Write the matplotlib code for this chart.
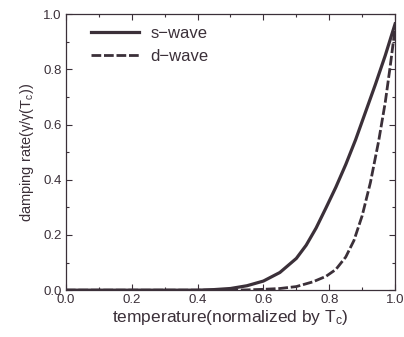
import numpy as np
import matplotlib
matplotlib.use('Agg')
import matplotlib.pyplot as plt
from matplotlib.ticker import MultipleLocator

plt.rcParams['font.family'] = ['Liberation Sans', 'DejaVu Sans']
plt.rcParams['mathtext.fontset'] = 'custom'
plt.rcParams['mathtext.rm'] = 'Liberation Sans'
plt.rcParams['mathtext.it'] = 'Liberation Sans'

ink = '#3b3039'

# normalized temperature and damping rates
t_s = [0.0, 0.40, 0.45, 0.50, 0.55, 0.60, 0.65, 0.70, 0.73, 0.76, 0.79,
       0.82, 0.85, 0.88, 0.91, 0.94, 0.97, 1.0]
s_wave = [0.0, 0.0, 0.002, 0.006, 0.016, 0.033, 0.064, 0.115, 0.163, 0.225, 0.298,
          0.373, 0.455, 0.545, 0.645, 0.745, 0.85, 0.965]

t_d = [0.0, 0.50, 0.55, 0.60, 0.65, 0.70, 0.75, 0.79, 0.82, 0.85, 0.875, 0.90,
       0.925, 0.95, 0.97, 0.985, 1.0]
d_wave = [0.0, 0.0, 0.001, 0.003, 0.006, 0.013, 0.03, 0.05, 0.075, 0.12, 0.18, 0.27,
          0.39, 0.54, 0.68, 0.81, 0.95]

fig = plt.figure(figsize=(4.04, 3.37), dpi=100)
ax = fig.add_axes([0.163, 0.139, 0.815, 0.819])

ax.plot(t_s, s_wave, color=ink, lw=2.3, label='s\u2212wave')
ax.plot(t_d, d_wave, color=ink, lw=2.0, ls=(0, (3.5, 1.0)), label='d\u2212wave')

ax.set_xlim(0, 1)
ax.set_ylim(0, 1)
ax.xaxis.set_major_locator(MultipleLocator(0.2))
ax.yaxis.set_major_locator(MultipleLocator(0.2))
ax.xaxis.set_minor_locator(MultipleLocator(0.1))
ax.yaxis.set_minor_locator(MultipleLocator(0.1))
ax.tick_params(which='both', direction='in', top=True, right=True, colors=ink,
               labelsize=9.5, width=0.8)
ax.tick_params(which='major', length=4, pad=3)
ax.tick_params(which='minor', length=2)
for sp in ax.spines.values():
    sp.set_color(ink)
    sp.set_linewidth(0.9)

ax.set_xlabel('temperature(normalized by T$_{\\mathregular{c}}$)', fontsize=12.5,
              color=ink, labelpad=1)
ax.set_ylabel('damping rate(\u03b3/\u03b3(T$_{\\mathregular{c}}$))', fontsize=10.5,
              color=ink, labelpad=5)

leg = ax.legend(loc='upper left', frameon=False, fontsize=12, handlelength=2.9,
                handletextpad=0.7, borderaxespad=0.3, labelspacing=0.5,
                bbox_to_anchor=(0.04, 1.0))
for txt in leg.get_texts():
    txt.set_color(ink)

fig.savefig('out.png', dpi=100)
